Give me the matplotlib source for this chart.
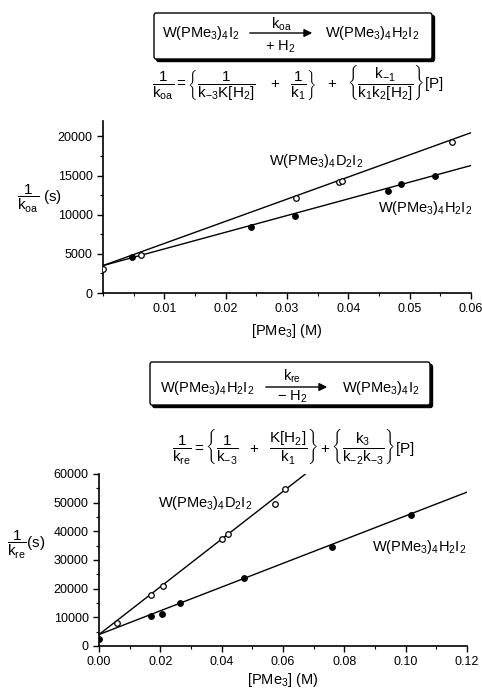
import numpy as np
import matplotlib
matplotlib.use("Agg")
import matplotlib.pyplot as plt
from matplotlib.patches import FancyBboxPatch, FancyArrowPatch
from matplotlib.ticker import MultipleLocator, FixedLocator, FixedFormatter

plt.rcParams['font.family'] = ['Liberation Sans', 'DejaVu Sans']
plt.rcParams['mathtext.fontset'] = 'custom'
plt.rcParams['mathtext.rm'] = 'Liberation Sans'
plt.rcParams['mathtext.it'] = 'Liberation Sans'
plt.rcParams['mathtext.bf'] = 'Liberation Sans:bold'
plt.rcParams['mathtext.default'] = 'rm'

# ---------------- data ----------------
# Top panel: oxidative addition, 1/k_oa (s) vs [PMe3] (M)
oa_D_x = [0.0, 0.0062, 0.0315, 0.0384, 0.0389, 0.0569]
oa_D_y = [3100, 4910, 12140, 14230, 14320, 19270]
oa_H_x = [0.0047, 0.0242, 0.0313, 0.0465, 0.0486, 0.0541]
oa_H_y = [4570, 8460, 9830, 13080, 13930, 15000]
oa_fit_D = [3500, 282800]   # intercept, slope
oa_fit_H = [3500, 213000]

# Bottom panel: reductive elimination, 1/k_re (s) vs [PMe3] (M)
re_D_x = [0.00575, 0.0170, 0.0210, 0.0400, 0.0422, 0.0574, 0.0605]
re_D_y = [8020, 17920, 21060, 37200, 39050, 49650, 54750]
re_H_x = [0.0, 0.0170, 0.0207, 0.0264, 0.0474, 0.0761, 0.1018]
re_H_y = [2600, 10600, 11300, 15000, 23610, 34660, 45680]
re_fit_D = [4000, 832000]
re_fit_H = [4000, 414000]

oa_xticks = [0.01, 0.02, 0.03, 0.04, 0.05, 0.06]
oa_xticklabels = ['0.01', '0.02', '0.03', '0.04', '0.05', '0.06']
oa_yticks = [0, 5000, 10000, 15000, 20000]
re_xticks = [0.0, 0.02, 0.04, 0.06, 0.08, 0.10, 0.12]
re_xticklabels = ['0.00', '0.02', '0.04', '0.06', '0.08', '0.10', '0.12']
re_yticks = [0, 10000, 20000, 30000, 40000, 50000, 60000]

lbl_D = r'W(PMe$_3$)$_4$D$_2$I$_2$'
lbl_H = r'W(PMe$_3$)$_4$H$_2$I$_2$'

W, H = 482, 690
fig = plt.figure(figsize=(W / 100, H / 100), dpi=100)


def fx(x):
    return x / W


def fy(y):
    return 1 - y / H


def style_axes(ax):
    for s in ['top', 'right']:
        ax.spines[s].set_visible(False)
    for s in ['left', 'bottom']:
        ax.spines[s].set_linewidth(1.2)
    ax.tick_params(which='major', length=4, width=1.0, labelsize=9, direction='out')
    ax.tick_params(which='minor', length=2.5, width=0.8, direction='out')


def draw_panel(ax, Dx, Dy, Hx, Hy, fitD, fitH, xmax):
    xs = np.array([0.0, xmax])
    ax.plot(xs, fitD[0] + fitD[1] * xs, color='black', lw=1.0, zorder=2)
    ax.plot(xs, fitH[0] + fitH[1] * xs, color='black', lw=1.0, zorder=2)
    ax.plot(Dx, Dy, 'o', ms=4, mfc='white', mec='black', mew=0.9, ls='none', zorder=3)
    ax.plot(Hx, Hy, 'o', ms=4, mfc='black', mec='black', mew=0.9, ls='none', zorder=3)


# ---------- top panel ----------
ax1 = fig.add_axes([fx(103), fy(293), fx(471) - fx(103), fy(120.7) - fy(293)])
draw_panel(ax1, oa_D_x, oa_D_y, oa_H_x, oa_H_y, oa_fit_D, oa_fit_H, 0.06)
ax1.set_xlim(0, 0.06)
ax1.set_ylim(0, 22000)
ax1.xaxis.set_major_locator(FixedLocator(oa_xticks))
ax1.xaxis.set_major_formatter(FixedFormatter(oa_xticklabels))
ax1.xaxis.set_minor_locator(MultipleLocator(0.005))
ax1.yaxis.set_major_locator(FixedLocator(oa_yticks))
ax1.yaxis.set_minor_locator(MultipleLocator(2500))
style_axes(ax1)
ax1.set_xlabel(r'[PMe$_3$] (M)', fontsize=10.5, labelpad=5)
ax1.text(0.0271, 16800, lbl_D, fontsize=10.5, va='center', ha='left')
ax1.text(0.0448, 10900, lbl_H, fontsize=10.5, va='center', ha='left')
fig.text(fx(17), fy(199), r'$\dfrac{1}{\mathrm{k_{oa}}}$ (s)', fontsize=11, va='center', ha='left')

# ---------- bottom panel ----------
ax2 = fig.add_axes([fx(99), fy(646), fx(467) - fx(99), fy(474) - fy(646)])
draw_panel(ax2, re_D_x, re_D_y, re_H_x, re_H_y, re_fit_D, re_fit_H, 0.12)
ax2.set_xlim(0, 0.12)
ax2.set_ylim(0, 60000)
ax2.xaxis.set_major_locator(FixedLocator(re_xticks))
ax2.xaxis.set_major_formatter(FixedFormatter(re_xticklabels))
ax2.xaxis.set_minor_locator(MultipleLocator(0.01))
ax2.yaxis.set_major_locator(FixedLocator(re_yticks))
ax2.yaxis.set_minor_locator(MultipleLocator(5000))
style_axes(ax2)
ax2.set_xlabel(r'[PMe$_3$] (M)', fontsize=10.5, labelpad=2)
ax2.text(0.0192, 49760, lbl_D, fontsize=10.5, va='center', ha='left')
ax2.text(0.089, 34400, lbl_H, fontsize=10.5, va='center', ha='left')
fig.text(fx(7), fy(545), r'$\dfrac{1}{\mathrm{k_{re}}}$(s)', fontsize=11, va='center', ha='left')


# ---------- reaction boxes ----------
def box(x0, y0, x1, y1):
    sh = FancyBboxPatch((fx(x0 + 2.5), fy(y1 + 2.5)), fx(x1) - fx(x0), fy(y0) - fy(y1),
                        boxstyle='round,pad=0,rounding_size=0.004', transform=fig.transFigure,
                        fc='black', ec='black', lw=1.0, zorder=1)
    bx = FancyBboxPatch((fx(x0), fy(y1)), fx(x1) - fx(x0), fy(y0) - fy(y1),
                        boxstyle='round,pad=0,rounding_size=0.004', transform=fig.transFigure,
                        fc='white', ec='black', lw=1.0, zorder=2)
    fig.add_artist(sh)
    fig.add_artist(bx)


def arrow(x0, x1, y):
    a = FancyArrowPatch((fx(x0), fy(y)), (fx(x1), fy(y)), transform=fig.transFigure,
                        arrowstyle='-|>', mutation_scale=12, lw=1.0, color='black', zorder=3)
    fig.add_artist(a)


# top reaction
box(154, 13, 432, 59)
fig.text(fx(162), fy(37), r'W(PMe$_3$)$_4$I$_2$', fontsize=10.5, va='baseline', ha='left', zorder=4)
arrow(247, 315, 33)
fig.text(fx(281), fy(29), r'k$_{oa}$', fontsize=10.5, va='baseline', ha='center', zorder=4)
fig.text(fx(280), fy(51), r'+ H$_2$', fontsize=10.5, va='baseline', ha='center', zorder=4)
fig.text(fx(325), fy(37), r'W(PMe$_3$)$_4$H$_2$I$_2$', fontsize=10.5, va='baseline', ha='left', zorder=4)

eq1 = (r'$\dfrac{1}{\mathrm{k_{oa}}} = \left\{\dfrac{1}{\mathrm{k_{-3}K[H_2]}}\ \ \ +\ \ '
       r'\dfrac{1}{\mathrm{k_1}}\right\}\ \ +\ \ \left\{\dfrac{\mathrm{k_{-1}}}'
       r'{\mathrm{k_1k_2[H_2]}}\right\}[\mathrm{P}]$')
fig.text(fx(298), fy(83), eq1, fontsize=11, va='center', ha='center')

# bottom reaction
box(150, 362, 430, 405)
fig.text(fx(160), fy(392), r'W(PMe$_3$)$_4$H$_2$I$_2$', fontsize=10.5, va='baseline', ha='left', zorder=4)
arrow(263, 330, 387)
fig.text(fx(292), fy(381), r'k$_{re}$', fontsize=10.5, va='baseline', ha='center', zorder=4)
fig.text(fx(292), fy(401), r'$-$ H$_2$', fontsize=10.5, va='baseline', ha='center', zorder=4)
fig.text(fx(342), fy(392), r'W(PMe$_3$)$_4$I$_2$', fontsize=10.5, va='baseline', ha='left', zorder=4)

eq2 = (r'$\dfrac{1}{\mathrm{k_{re}}} = \left\{\dfrac{1}{\mathrm{k_{-3}}}\ \ +\ \ '
       r'\dfrac{\mathrm{K[H_2]}}{\mathrm{k_1}}\right\} + \left\{\dfrac{\mathrm{k_3}}'
       r'{\mathrm{k_{-2}k_{-3}}}\right\}[\mathrm{P}]$')
fig.text(fx(293), fy(446), eq2, fontsize=11, va='center', ha='center')

fig.savefig('out.png', dpi=100)
